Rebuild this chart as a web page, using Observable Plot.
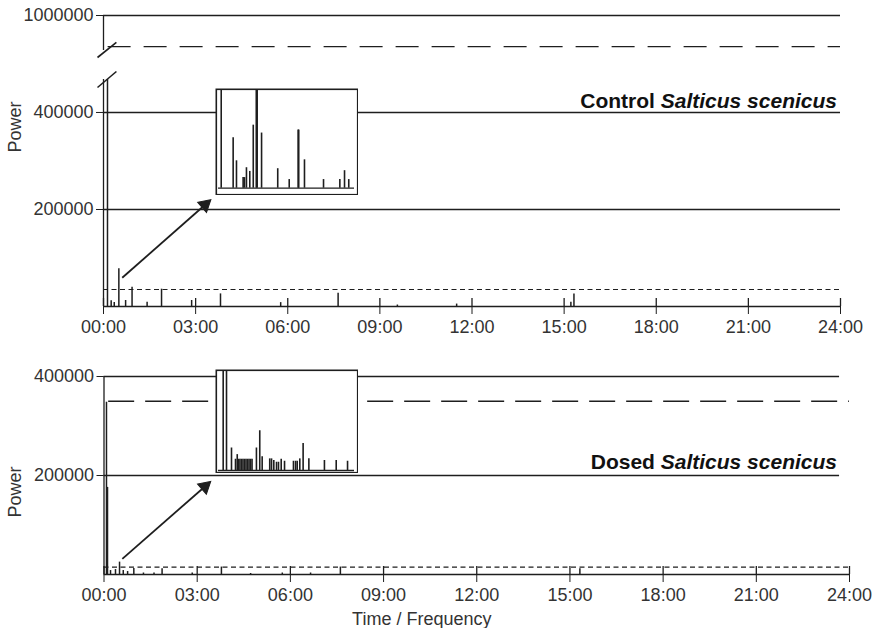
<!DOCTYPE html>
<html><head><meta charset="utf-8">
<script src="https://cdn.jsdelivr.net/npm/d3@7"></script>
<script src="https://cdn.jsdelivr.net/npm/@observablehq/plot@0.6"></script>
<style>
body{margin:0;background:#fff;}
#wrap{position:relative;width:875px;height:628px;font-family:"Liberation Sans",Arial,sans-serif;background:#fff;}
.panel{position:absolute;left:0;}
.inset{position:absolute;}
.title{position:absolute;font-weight:bold;font-size:21px;line-height:20px;color:#111;white-space:nowrap;text-align:right;}
</style></head><body><div id="wrap"></div>
<script>
// ---- shared ----
const xTickHours = [0, 3, 6, 9, 12, 15, 18, 21, 24];
const xTickLabels = ["00:00", "03:00", "06:00", "09:00", "12:00", "15:00", "18:00", "21:00", "24:00"];

// ---- control panel ----
const controlYTicksLow = [200000, 400000];
const controlYTicksHigh = [1000000];
const controlHours = [0.13, 0.25, 0.35, 0.5, 0.72, 0.93, 1.42, 1.89, 2.87, 3.81, 5.77, 7.64, 9.57, 11.5, 15.22, 15.32];
const controlPower = [468000, 12000, 8000, 77700, 12400, 39800, 8900, 35700, 12400, 26000, 8000, 27400, 3000, 5000, 9000, 26000];
const controlLongDash = 936000;
const controlShortDash = 35000;
const controlBreakLow = 468000;   // top of the lower axis segment
const controlBreakHigh = 928000;  // bottom of the upper axis segment
const controlMax = 1000000;
// break slashes (one per axis segment)
const controlSlashHigh = {x1: -0.195, y1: 913600, x2: 0.42, y2: 944500};
const controlSlashLow = {x1: -0.195, y1: 451500, x2: 0.42, y2: 484500};
const controlArrow = {x1: 0.61, y1: 59200, x2: 3.43, y2: 216500};
const controlInsetMinutes = [1.8, 9.7, 11.9, 16.3, 17.2, 18.5, 20.7, 23.0, 25.0, 25.6, 28.5, 39.2, 46.8, 52.7, 53.1, 56.9, 69.5, 80.3, 83.4, 86.2];
const controlInsetPower = [80000, 40900, 22200, 8600, 8600, 16600, 13600, 51100, 80000, 80000, 44700, 15800, 7000, 47100, 47100, 23000, 7000, 7000, 14200, 7000];

// ---- dosed panel ----
const dosedYTicks = [200000, 400000];
const dosedHours = [0.08, 0.1, 0.113, 0.21, 0.37, 0.5, 0.62, 0.76, 0.96, 1.27, 1.61, 1.87, 2.84, 3.78, 4.72, 5.74, 6.65, 7.61, 15.32];
const dosedPower = [348000, 176000, 176000, 8000, 10000, 25000, 8000, 6000, 12000, 3000, 3000, 11500, 3000, 15000, 2000, 3000, 3000, 15000, 11500];
const dosedLongDash = 350000;
const dosedShortDash = 15000;
const dosedArrow = {x1: 0.59, y1: 31700, x2: 3.37, y2: 184400};
const dosedInsetMinutes = [3.1, 5.3, 8.6, 11.25, 12.4, 13.2, 14.2, 15.2, 16.2, 17.2, 18.2, 19.2, 20.2, 21.2, 22.2, 25.1, 27.3, 28.9, 33.9, 35.1, 36.6, 38.4, 39.7, 41.5, 43.7, 49.6, 51.0, 52.1, 53.8, 56.0, 59.8, 70.1, 77.9, 85.4];
const dosedInsetPower = [80000, 80000, 18000, 9000, 12700, 9000, 9000, 9000, 9000, 9000, 9000, 9000, 9000, 9000, 9000, 18000, 31800, 11100, 9300, 9300, 8000, 6600, 6600, 9000, 7400, 7400, 7400, 7400, 9300, 21700, 9500, 8000, 8000, 7400];

const INK = "#1e1e1e";
const fmtX = d => xTickLabels[xTickHours.indexOf(d)];
const baseStyle = {fontFamily: "'Liberation Sans', Arial, sans-serif", fontSize: "18px", color: "#333", background: "transparent"};
const headOpts = {x: "x2", y: "y2", symbol: "triangle", r: 5, rotate: 49, dx: -3.8, dy: 3.3, fill: INK, stroke: INK, strokeWidth: 1};

const wrap = document.getElementById("wrap");
function place(node, cls, left, top) {
  const d = document.createElement("div");
  d.className = cls;
  d.style.left = left + "px";
  d.style.top = top + "px";
  d.appendChild(node);
  wrap.appendChild(d);
  return d;
}

// ---- control main: lower segment ----
const cData = controlHours.map((t, i) => ({t, v: controlPower[i]}));
const topLow = Plot.plot({
  width: 875, height: 340,
  marginLeft: 103, marginRight: 35, marginTop: 79, marginBottom: 34,
  style: baseStyle,
  x: {domain: [0, 24], range: [103, 840]},
  y: {domain: [0, controlBreakLow], range: [306, 79]},
  marks: [
    Plot.ruleY(controlYTicksLow, {stroke: INK, strokeWidth: 1.3}),
    Plot.ruleY([controlShortDash], {x1: 0, x2: 24, stroke: INK, strokeWidth: 1.1, strokeDasharray: "5,3.5"}),
    Plot.ruleY([0], {stroke: INK, strokeWidth: 1.4}),
    Plot.ruleX([0], {y1: 0, y2: controlBreakLow, stroke: INK, strokeWidth: 1.3}),
    Plot.link([controlSlashLow], {x1: "x1", y1: "y1", x2: "x2", y2: "y2", stroke: INK, strokeWidth: 1.6}),
    Plot.ruleX(xTickHours, {y1: 0, y2: 16500, stroke: INK, strokeWidth: 1.3}),
    Plot.ruleX(cData, {x: "t", y1: 0, y2: "v", stroke: INK, strokeWidth: 1.5}),
    Plot.link([controlArrow], {x1: "x1", y1: "y1", x2: "x2", y2: "y2", stroke: INK, strokeWidth: 1.8}),
    Plot.dot([controlArrow], headOpts),
    Plot.text(["Power"], {frameAnchor: "left", y: 317500, dx: -88, rotate: -90, fontSize: 18, fill: "#333"}),
    Plot.axisX({ticks: xTickHours, tickFormat: fmtX, tickSize: 8, tickPadding: 6, label: null, stroke: INK}),
    Plot.axisY({ticks: controlYTicksLow, tickFormat: d => String(d), tickSize: 7, tickPadding: 3, label: null, stroke: INK})
  ]
});
place(topLow, "panel", 0, 0);

// ---- control main: upper segment (above the axis break) ----
const topHigh = Plot.plot({
  width: 875, height: 62,
  marginLeft: 103, marginRight: 35, marginTop: 15, marginBottom: 12,
  style: baseStyle,
  x: {domain: [0, 24], range: [103, 840], axis: null},
  y: {domain: [controlBreakHigh, controlMax], range: [50, 15]},
  marks: [
    Plot.ruleY(controlYTicksHigh, {stroke: INK, strokeWidth: 1.3}),
    Plot.ruleY([controlLongDash], {x1: 0.15, x2: 24, stroke: INK, strokeWidth: 1.3, strokeDasharray: "23,13"}),
    Plot.ruleX([0], {y1: controlBreakHigh, y2: controlMax, stroke: INK, strokeWidth: 1.3}),
    Plot.link([controlSlashHigh], {x1: "x1", y1: "y1", x2: "x2", y2: "y2", stroke: INK, strokeWidth: 1.6}),
    Plot.axisY({ticks: controlYTicksHigh, tickFormat: d => String(d), tickSize: 7, tickPadding: 3, label: null, stroke: INK})
  ]
});
place(topHigh, "panel", 0, 0);

// ---- dosed main ----
const dData = dosedHours.map((t, i) => ({t, v: dosedPower[i]}));
const botPlot = Plot.plot({
  width: 875, height: 288,
  marginLeft: 103.5, marginRight: 26, marginTop: 36, marginBottom: 54,
  style: baseStyle,
  x: {domain: [0, 24], range: [103.5, 849]},
  y: {domain: [0, 400000], range: [234, 36]},
  marks: [
    Plot.ruleY(dosedYTicks, {x1: 0, x2: 23.68, stroke: INK, strokeWidth: 1.3}),
    Plot.ruleY([dosedLongDash], {x1: 0.15, x2: 24, stroke: INK, strokeWidth: 1.3, strokeDasharray: "26,11"}),
    Plot.ruleY([dosedShortDash], {x1: 0, x2: 24, stroke: INK, strokeWidth: 1.1, strokeDasharray: "5,3.5"}),
    Plot.ruleY([0], {stroke: INK, strokeWidth: 1.4}),
    Plot.ruleX([0], {y1: 0, y2: 400000, stroke: INK, strokeWidth: 1.3}),
    Plot.ruleX(xTickHours, {y1: 0, y2: 16200, stroke: INK, strokeWidth: 1.3}),
    Plot.ruleX(dData, {x: "t", y1: 0, y2: "v", stroke: INK, strokeWidth: 1.5}),
    Plot.link([dosedArrow], {x1: "x1", y1: "y1", x2: "x2", y2: "y2", stroke: INK, strokeWidth: 1.8}),
    Plot.dot([dosedArrow], headOpts),
    Plot.text(["Power"], {frameAnchor: "left", y: 115000, dx: -88.5, rotate: -90, fontSize: 18, fill: "#333"}),
    Plot.text(["Time / Frequency"], {frameAnchor: "bottom", lineAnchor: "middle", dx: -55, dy: 45, fontSize: 18, fill: "#333"}),
    Plot.axisX({ticks: xTickHours, tickFormat: fmtX, tickSize: 8, tickPadding: 6, label: null, stroke: INK}),
    Plot.axisY({ticks: dosedYTicks, tickFormat: d => String(d), tickSize: 7, tickPadding: 3, label: null, stroke: INK})
  ]
});
place(botPlot, "panel", 0, 340);

// ---- insets ----
function inset(minutes, power, h, baseY) {
  const data = minutes.map((m, i) => ({m, v: power[i]}));
  return Plot.plot({
    width: 143, height: h, margin: 0,
    style: {background: "transparent"},
    x: {domain: [0, 90], range: [3, 139], axis: null},
    y: {domain: [0, 80000], range: [baseY, 1], axis: null},
    marks: [
      Plot.frame({fill: "white", stroke: INK, strokeWidth: 1.6, inset: 0.8}),
      Plot.ruleY([0], {x1: 0, x2: 90, stroke: INK, strokeWidth: 1.3}),
      Plot.ruleX(data, {x: "m", y1: 0, y2: "v", stroke: INK, strokeWidth: 1.6})
    ]
  });
}
place(inset(controlInsetMinutes, controlInsetPower, 107, 99.7), "inset", 215, 88);
place(inset(dosedInsetMinutes, dosedInsetPower, 104, 101), "inset", 215, 369);

// ---- titles ----
function title(word, top) {
  const d = document.createElement("div");
  d.className = "title";
  d.style.right = "38px";
  d.style.top = top + "px";
  d.innerHTML = word + " <i>Salticus scenicus</i>";
  wrap.appendChild(d);
}
title("Control", 91);
title("Dosed", 452);
</script></body></html>
